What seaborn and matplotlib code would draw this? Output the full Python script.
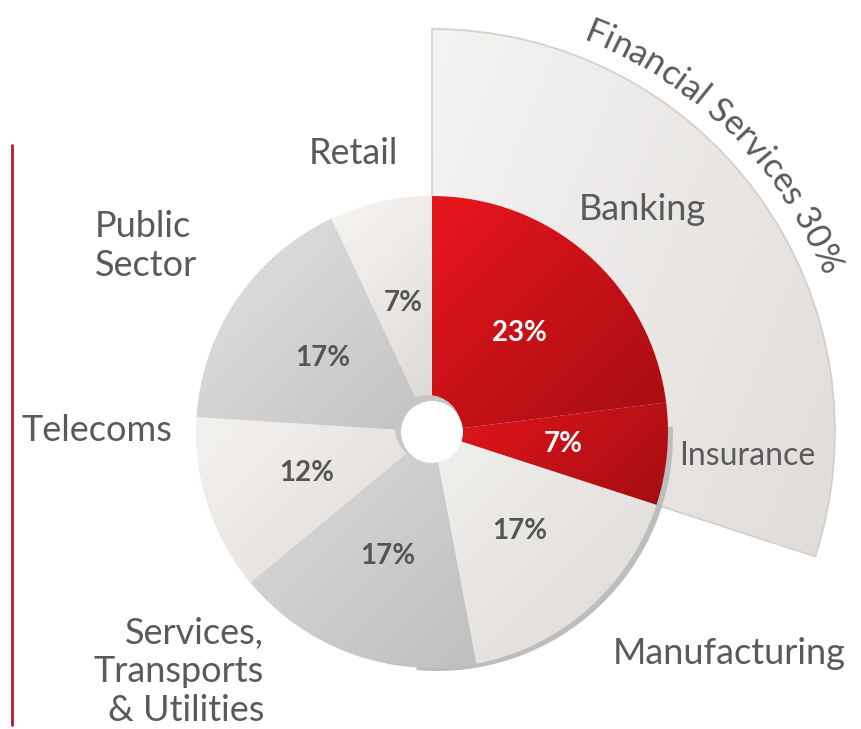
import numpy as np
import matplotlib
matplotlib.use("Agg")
import matplotlib.pyplot as plt
import seaborn as sns
from matplotlib.patches import Wedge, Circle
from matplotlib.font_manager import FontProperties
from matplotlib.textpath import TextToPath

# Data
segments = ["Banking", "Insurance", "Manufacturing", "Services,\nTransports\n& Utilities",
            "Telecoms", "Public\nSector", "Retail"]
shares = [23, 7, 17, 17, 12, 17, 7]
group_label = "Financial Services"
group_share = 30  # Banking + Insurance

sns.set_theme(style="white")
plt.rcParams["font.family"] = ["Lato", "DejaVu Sans"]

W, H = 861, 729
fig = plt.figure(figsize=(W / 100, H / 100), dpi=100)
ax = fig.add_axes([0, 0, 1, 1])
ax.set_xlim(0, W)
ax.set_ylim(0, H)
ax.set_aspect("equal")
ax.axis("off")

cx, cy = 432, H - 432
R = 236
R_OUT = 403
TXT = "#5a5a5a"

# gradient colours (light, dark) for each slice
grads = [("#e8161c", "#a40d12"), ("#e8161c", "#a40d12"), ("#f2f0ee", "#dcd9d6"),
         ("#dcdcdc", "#bfbfbf"), ("#f4f2f0", "#ddd9d5"), ("#e2e2e2", "#c2c2c2"),
         ("#f7f5f3", "#dbd7d3")]


def gradient_fill(patch, c0, c1, direction=(1, -1), z=2):
    ax.add_patch(patch)
    bb = patch.get_path().get_extents(patch.get_transform() - ax.transData)
    x0, y0, x1, y1 = bb.x0, bb.y0, bb.x1, bb.y1
    xs = np.linspace(x0, x1, 200)
    ys = np.linspace(y0, y1, 200)
    X, Y = np.meshgrid(xs, ys)
    d = np.array(direction, float)
    d /= np.linalg.norm(d)
    v = X * d[0] + Y * d[1]
    v = (v - v.min()) / (v.max() - v.min())
    cmap = sns.blend_palette([c0, c1], as_cmap=True)
    im = ax.imshow(v, extent=[x0, x1, y0, y1], origin="lower", cmap=cmap,
                   interpolation="bilinear", zorder=z, aspect="auto")
    im.set_clip_path(patch)


# outer "Financial Services" band
g_sweep = group_share / 100 * 360
outer = Wedge((cx, cy), R_OUT, 90 - g_sweep, 90, facecolor="none", edgecolor="none")
gradient_fill(outer, "#f5f4f3", "#e0dcd9", direction=(1, -0.4), z=1)
ax.add_patch(Wedge((cx, cy), R_OUT, 90 - g_sweep, 90, facecolor="none",
                   edgecolor="#d2ceca", linewidth=1.2, zorder=1.5))

# soft shadow on the right side of the pie
ax.add_patch(Wedge((cx + 5, cy - 3), R, -95, 2, facecolor="#bdbdbd",
                   edgecolor="none", zorder=1.8))

start = 90
mids = []
for share, (c0, c1) in zip(shares, grads):
    sweep = share / 100 * 360
    w = Wedge((cx, cy), R, start - sweep, start, facecolor="none", edgecolor="none")
    gradient_fill(w, c0, c1, direction=(1, -1), z=2)
    mids.append(np.deg2rad(start - sweep / 2))
    start -= sweep

# centre hole
ax.add_patch(Circle((cx - 4, cy + 4), 33, facecolor="#c6c6c6", edgecolor="none", zorder=3))
ax.add_patch(Circle((cx, cy), 31, facecolor="white", edgecolor="none", zorder=3.1))

# percentage labels
for i, (share, a) in enumerate(zip(shares, mids)):
    col = "white" if i < 2 else "#555555"
    ax.text(cx + 132 * np.cos(a), cy + 132 * np.sin(a), f"{share}%", ha="center",
            va="center", fontsize=20, fontweight="bold", color=col, zorder=5)

# category labels
lab_fs = 26
ax.text(642, H - 209, segments[0], ha="center", va="center", fontsize=lab_fs, color=TXT, zorder=5)
ax.text(747, H - 456, segments[1], ha="center", va="center", fontsize=23, color=TXT, zorder=5)
ax.text(729, H - 653, segments[2], ha="center", va="center", fontsize=lab_fs, color=TXT, zorder=5)
ax.text(264, H - 672, segments[3], ha="right", va="center", fontsize=lab_fs, color=TXT,
        linespacing=1.2, zorder=5)
ax.text(95, H - 246, segments[5], ha="left", va="center", fontsize=lab_fs, color=TXT,
        linespacing=1.2, zorder=5)
ax.text(22, H - 430, segments[4], ha="left", va="center", fontsize=lab_fs, color=TXT, zorder=5)
ax.text(353, H - 153, segments[6], ha="center", va="center", fontsize=lab_fs, color=TXT, zorder=5)

# curved group label along the outer band
arc_text = f"{group_label} {group_share}%"
arc_fs = 25
prop = FontProperties(family="Lato", size=arc_fs)
ttp = TextToPath()


def width_px(s):
    return ttp.get_text_width_height_descent(s, prop, ismath=False)[0] * 100 / 72


r_txt = 420
a0 = np.deg2rad(69)
for i, ch in enumerate(arc_text):
    if ch == " ":
        continue
    s = width_px(arc_text[:i + 1]) - width_px(ch) / 2
    a = a0 - s / r_txt
    ax.text(cx + r_txt * np.cos(a), cy + r_txt * np.sin(a), ch, fontproperties=prop,
            color=TXT, rotation=np.rad2deg(a) - 90, rotation_mode="anchor",
            ha="center", va="baseline", zorder=5)

# red rule at the left
ax.plot([12, 12], [H - 145, H - 725], color="#b01e24", linewidth=2, zorder=5)

fig.savefig("out.png", dpi=100)
